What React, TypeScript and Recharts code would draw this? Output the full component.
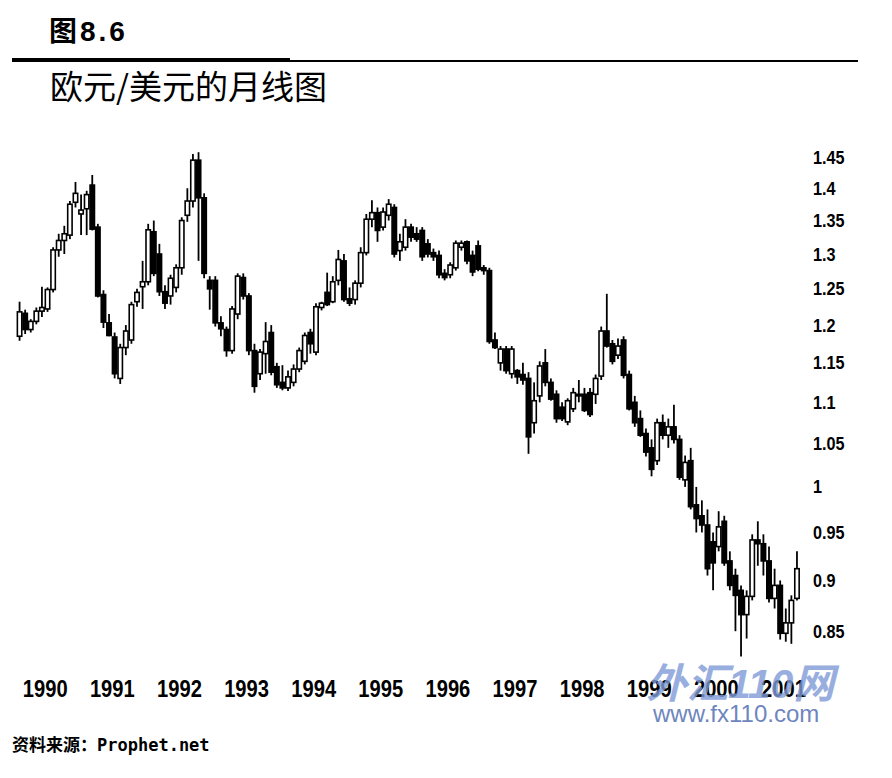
import { ComposedChart, Bar, XAxis, YAxis } from 'recharts'

document.body.style.margin = '0'

// monthly EUR/USD candles, Jan 1990 .. Aug 2001
const YEARS = [1990, 1991, 1992, 1993, 1994, 1995, 1996, 1997, 1998, 1999, 2000, 2001]

const OPEN = [
  1.185, 1.216, 1.194, 1.205, 1.219, 1.222, 1.249, 1.306, 1.320, 1.328, 1.378, 1.360,
  1.368, 1.405, 1.340, 1.242, 1.203, 1.184, 1.130, 1.170, 1.180, 1.232, 1.253, 1.260,
  1.333, 1.300, 1.246, 1.240, 1.252, 1.280, 1.358, 1.380, 1.445, 1.385, 1.262, 1.262,
  1.203, 1.194, 1.166, 1.215, 1.266, 1.240, 1.166, 1.136, 1.162, 1.190, 1.145, 1.125,
  1.118, 1.125, 1.142, 1.152, 1.190, 1.164, 1.224, 1.245, 1.232, 1.262, 1.290, 1.236,
  1.235, 1.258, 1.302, 1.352, 1.362, 1.340, 1.358, 1.370, 1.305, 1.310, 1.340, 1.330,
  1.335, 1.315, 1.302, 1.298, 1.272, 1.270, 1.280, 1.310, 1.318, 1.298, 1.312, 1.280,
  1.276, 1.180, 1.150, 1.168, 1.136, 1.140, 1.135, 1.130, 1.075, 1.108, 1.150, 1.125,
  1.110, 1.094, 1.076, 1.092, 1.110, 1.110, 1.112, 1.110, 1.133, 1.192, 1.175, 1.160,
  1.180, 1.135, 1.100, 1.080, 1.062, 1.045, 1.030, 1.075, 1.060, 1.070, 1.055, 1.008,
  1.030, 0.980, 0.968, 0.958, 0.940, 0.935, 0.962, 0.920, 0.905, 0.890, 0.866, 0.884,
  0.942, 0.938, 0.920, 0.882, 0.895, 0.848, 0.858, 0.882,
]

const HIGH = [
  1.232, 1.221, 1.208, 1.224, 1.253, 1.252, 1.310, 1.330, 1.342, 1.380, 1.410, 1.390,
  1.396, 1.421, 1.345, 1.248, 1.215, 1.190, 1.175, 1.200, 1.232, 1.250, 1.290, 1.345,
  1.350, 1.315, 1.255, 1.270, 1.285, 1.355, 1.400, 1.455, 1.458, 1.392, 1.268, 1.268,
  1.212, 1.198, 1.226, 1.272, 1.272, 1.244, 1.175, 1.168, 1.204, 1.200, 1.150, 1.147,
  1.140, 1.148, 1.170, 1.190, 1.195, 1.230, 1.232, 1.273, 1.268, 1.306, 1.300, 1.252,
  1.262, 1.310, 1.360, 1.381, 1.370, 1.370, 1.383, 1.375, 1.330, 1.352, 1.345, 1.340,
  1.340, 1.322, 1.308, 1.305, 1.278, 1.288, 1.320, 1.320, 1.320, 1.305, 1.320, 1.284,
  1.280, 1.190, 1.172, 1.172, 1.172, 1.142, 1.150, 1.138, 1.125, 1.152, 1.168, 1.130,
  1.115, 1.100, 1.105, 1.118, 1.128, 1.118, 1.118, 1.135, 1.198, 1.243, 1.180, 1.182,
  1.185, 1.140, 1.108, 1.090, 1.068, 1.055, 1.080, 1.085, 1.080, 1.097, 1.060, 1.036,
  1.045, 1.000, 0.985, 0.975, 0.950, 0.973, 0.968, 0.930, 0.912, 0.895, 0.890, 0.948,
  0.962, 0.948, 0.935, 0.912, 0.900, 0.872, 0.885, 0.930,
]

const LOW = [
  1.179, 1.188, 1.190, 1.201, 1.211, 1.218, 1.245, 1.296, 1.300, 1.322, 1.370, 1.328,
  1.328, 1.335, 1.238, 1.196, 1.185, 1.130, 1.123, 1.160, 1.175, 1.225, 1.222, 1.255,
  1.268, 1.240, 1.222, 1.228, 1.245, 1.270, 1.348, 1.370, 1.290, 1.265, 1.221, 1.198,
  1.185, 1.158, 1.162, 1.208, 1.235, 1.160, 1.112, 1.128, 1.136, 1.134, 1.118, 1.115,
  1.114, 1.120, 1.138, 1.148, 1.162, 1.160, 1.220, 1.226, 1.230, 1.255, 1.232, 1.226,
  1.228, 1.252, 1.298, 1.340, 1.318, 1.335, 1.350, 1.295, 1.290, 1.305, 1.318, 1.318,
  1.290, 1.295, 1.290, 1.265, 1.262, 1.265, 1.276, 1.305, 1.285, 1.268, 1.275, 1.270,
  1.175, 1.168, 1.140, 1.136, 1.130, 1.123, 1.122, 1.038, 1.062, 1.100, 1.120, 1.102,
  1.075, 1.077, 1.072, 1.088, 1.100, 1.088, 1.082, 1.098, 1.128, 1.170, 1.148, 1.155,
  1.130, 1.090, 1.070, 1.058, 1.035, 1.012, 1.025, 1.055, 1.045, 1.050, 1.008, 1.000,
  0.975, 0.950, 0.950, 0.905, 0.890, 0.930, 0.915, 0.890, 0.850, 0.826, 0.843, 0.880,
  0.915, 0.905, 0.878, 0.872, 0.842, 0.840, 0.838, 0.880,
]

const CLOSE = [
  1.218, 1.194, 1.205, 1.219, 1.224, 1.249, 1.306, 1.320, 1.330, 1.375, 1.392, 1.366,
  1.390, 1.337, 1.240, 1.204, 1.186, 1.136, 1.170, 1.192, 1.228, 1.245, 1.260, 1.336,
  1.272, 1.246, 1.230, 1.265, 1.280, 1.350, 1.380, 1.445, 1.385, 1.272, 1.250, 1.203,
  1.195, 1.166, 1.222, 1.268, 1.240, 1.166, 1.120, 1.164, 1.178, 1.138, 1.122, 1.118,
  1.132, 1.142, 1.166, 1.186, 1.175, 1.225, 1.230, 1.228, 1.260, 1.292, 1.235, 1.230,
  1.258, 1.302, 1.352, 1.362, 1.335, 1.363, 1.375, 1.300, 1.318, 1.340, 1.325, 1.322,
  1.296, 1.300, 1.296, 1.270, 1.266, 1.284, 1.316, 1.316, 1.290, 1.274, 1.278, 1.276,
  1.178, 1.170, 1.168, 1.140, 1.168, 1.132, 1.128, 1.058, 1.102, 1.146, 1.125, 1.104,
  1.080, 1.080, 1.102, 1.112, 1.108, 1.090, 1.085, 1.130, 1.192, 1.172, 1.152, 1.172,
  1.134, 1.092, 1.075, 1.060, 1.040, 1.020, 1.075, 1.060, 1.070, 1.055, 1.011, 1.028,
  0.978, 0.965, 0.958, 0.912, 0.918, 0.956, 0.918, 0.895, 0.885, 0.866, 0.884, 0.942,
  0.938, 0.920, 0.882, 0.895, 0.848, 0.858, 0.880, 0.912,
]

const Y_TICKS = [0.85, 0.9, 0.95, 1, 1.05, 1.1, 1.15, 1.2, 1.25, 1.3, 1.35, 1.4, 1.45]

const MONTHS: string[] = []
YEARS.forEach((yr) => {
  for (let m = 1; m <= 12; m++) MONTHS.push(`${yr}-${String(m).padStart(2, '0')}`)
})

const data = OPEN.map((open, i) => ({
  month: MONTHS[i],
  open,
  high: HIGH[i],
  low: LOW[i],
  close: CLOSE[i],
}))

const AXIS_FONT = "'Liberation Sans', Arial, sans-serif"

const Candle = (props: any) => {
  const { x, y, width, height, payload } = props
  if (x == null || y == null) return null
  const top = height < 0 ? y + height : y
  const h = Math.abs(height)
  const { open, high, low, close } = payload
  const span = Math.log(high) - Math.log(low) || 1
  // position inside the high..low pixel range, log scale
  const at = (v: number) => top + (h * (Math.log(high) - Math.log(v))) / span
  const cx = x + width / 2
  const up = close >= open
  const bTop = at(Math.max(open, close))
  const bBot = at(Math.min(open, close))
  const bw = 4.4
  return (
    <g>
      <line x1={cx} x2={cx} y1={top} y2={top + h} stroke="#000" strokeWidth={1.8} />
      <rect
        x={cx - bw / 2}
        y={bTop}
        width={bw}
        height={Math.max(bBot - bTop, 1.4)}
        fill={up ? '#fff' : '#000'}
        stroke="#000"
        strokeWidth={1.6}
      />
    </g>
  )
}

// the scan's digits are narrow, so squeeze them horizontally
const YearTick = (props: any) => {
  const { x, y, payload } = props
  return (
    <text
      transform={`translate(${x + 3},${y + 4}) scale(0.84,1)`}
      textAnchor="start"
      fontFamily={AXIS_FONT}
      fontWeight="bold"
      fontSize={24}
      fill="#000"
    >
      {String(payload.value).slice(0, 4)}
    </text>
  )
}

const PriceTick = (props: any) => {
  const { x, y, payload } = props
  return (
    <text
      transform={`translate(${x + 5},${y}) scale(0.9,1)`}
      dy="0.36em"
      textAnchor="start"
      fontFamily={AXIS_FONT}
      fontWeight="bold"
      fontSize={18}
      fill="#000"
    >
      {String(payload.value)}
    </text>
  )
}

export default function App() {
  return (
    <div style={{ position: 'relative', width: 892, height: 778, background: '#fff', overflow: 'hidden' }}>
      <ComposedChart width={892} height={778} data={data} margin={{ top: 127, right: 0, bottom: 63, left: 17 }}>
        <XAxis
          dataKey="month"
          interval={11}
          axisLine={false}
          tickLine={false}
          height={30}
          tick={<YearTick />}
        />
        <YAxis
          orientation="right"
          scale="log"
          domain={[0.8, 1.5]}
          allowDataOverflow
          ticks={Y_TICKS}
          axisLine={false}
          tickLine={false}
          width={92}
          tick={<PriceTick />}
        />
        <Bar dataKey={(d: any) => [d.low, d.high]} shape={<Candle />} isAnimationActive={false} />
      </ComposedChart>

      <div
        style={{
          position: 'absolute', left: 49, top: 18, fontSize: 28, lineHeight: '28px', fontWeight: 'bold',
          letterSpacing: 3, fontFamily: "'Liberation Sans', 'Noto Sans CJK SC', sans-serif",
        }}
      >
        图8.6
      </div>
      <div style={{ position: 'absolute', left: 12, top: 58, width: 278, height: 4, background: '#000' }} />
      <div style={{ position: 'absolute', left: 290, top: 60, width: 568, height: 2, background: '#000' }} />
      <div
        style={{
          position: 'absolute', left: 50, top: 69, fontSize: 33, lineHeight: '33px',
          fontFamily: "'Noto Sans CJK SC', sans-serif",
        }}
      >
        欧元/美元的月线图
      </div>
      <div
        style={{
          position: 'absolute', left: 12, top: 737, fontSize: 17, lineHeight: '17px', fontWeight: 'bold',
          fontFamily: "'DejaVu Sans Mono', 'Noto Sans CJK SC', monospace",
        }}
      >
        资料来源：Prophet.net
      </div>

      {/* fx110 watermark */}
      <div
        style={{
          position: 'absolute', left: 646, top: 664, fontSize: 41, lineHeight: '41px', fontWeight: 'bold',
          fontStyle: 'italic', color: '#7f9bd8', opacity: 0.8,
          fontFamily: "'Liberation Sans', 'Noto Sans CJK SC', sans-serif",
        }}
      >
        外汇110网
      </div>
      <div
        style={{
          position: 'absolute', left: 653, top: 702, fontSize: 24, lineHeight: '24px', color: '#6e86bd',
          fontFamily: "'Liberation Sans', sans-serif",
        }}
      >
        www.fx110.com
      </div>
    </div>
  )
}
